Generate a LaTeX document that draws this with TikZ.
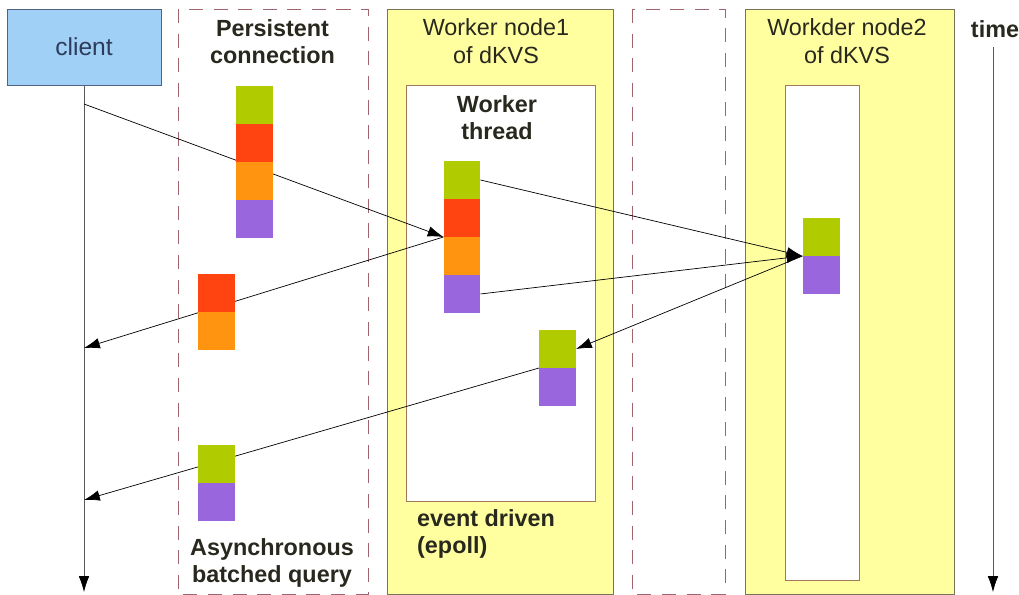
\documentclass[tikz,border=0pt]{standalone}
\usepackage{fontspec}
\setmainfont{Liberation Sans}
\usetikzlibrary{positioning,backgrounds,arrows.meta}

\definecolor{qgreen}{RGB}{176,204,0}
\definecolor{qred}{RGB}{255,68,17}
\definecolor{qorange}{RGB}{255,148,17}
\definecolor{qpurple}{RGB}{153,102,221}
\definecolor{nodeyellow}{RGB}{255,255,160}
\definecolor{clientblue}{RGB}{160,208,245}
\definecolor{clientedge}{RGB}{80,100,130}
\definecolor{clienttext}{RGB}{45,60,90}
\definecolor{dashred}{RGB}{160,100,110}
\definecolor{boxgray}{RGB}{120,115,90}
\definecolor{threadbrown}{RGB}{160,120,90}
\definecolor{labeltext}{RGB}{40,40,30}

\begin{document}
\begin{tikzpicture}[x=0.02cm,y=-0.02cm,
  blk/.style={minimum width=0.74cm, minimum height=0.76cm, inner sep=0pt, outer sep=0pt},
  msg/.style={thin,-{Latex[length=9pt,width=6pt]}},
  life/.style={thin,black!65,-{Latex[length=9pt,width=6pt,black]}},
  lbl/.style={font=\bfseries\fontsize{13.3}{15}\selectfont, align=center, text=labeltext},
  hdr/.style={font=\fontsize{13.3}{16}\selectfont, align=center, text=labeltext},
  conn/.style={draw=dashred, dash pattern=on 8pt off 6pt, thin},
  nodebox/.style={draw=boxgray, fill=nodeyellow},
  threadbox/.style={draw=threadbrown, fill=white},
  node distance=0pt]

\useasboundingbox (0,0) rectangle (1019,595);

%\draw (0,0) grid (1019,595);

\node [draw=clientedge, fill=clientblue, minimum width=3.08cm, minimum height=1.52cm,
       font=\fontsize{14}{16}\selectfont, text=clienttext] (client) at (84,47) {client};

% persistent connection
\node [blk, fill=qgreen] (pcg) at (254.5,105) {};
\node [blk, fill=qred, below=of pcg] (pcr) {};
\node [blk, fill=qorange, below=of pcr] (pco) {};
\node [blk, fill=qpurple, below=of pco] (pcp) {};

% worker thread of node1
\node [blk, fill=qgreen] (wtg) at (462,180) {};
\node [blk, fill=qred, below=of wtg] (wtr) {};
\node [blk, fill=qorange, below=of wtr] (wto) {};
\node [blk, fill=qpurple, below=of wto] (wtp) {};

\node [blk, fill=qgreen] (rtg) at (557.5,349) {};
\node [blk, fill=qpurple, below=of rtg] (rtp) {};

% node2
\node [blk, fill=qgreen] (ndg) at (821,237) {};
\node [blk, fill=qpurple, below=of ndg] (ndp) {};

% batched answers
\node [blk, fill=qred] (bar) at (216.5,293) {};
\node [blk, fill=qorange, below=of bar] (bao) {};
\node [blk, fill=qgreen] (bbg) at (216.5,464) {};
\node [blk, fill=qpurple, below=of bbg] (bbp) {};

\node [lbl] (pclabel) at (272.5,41.5) {Persistent\\connection};
\node [lbl] (bqlabel) at (272,563) {Asynchronous\\batched query};
\node [hdr] (n1label) at (496,41) {Worker node1\\of dKVS};
\node [hdr] (n2label) at (847,41) {Workder node2\\of dKVS};
\node [lbl] (wtlabel) at (497,117.5) {Worker\\thread};
\node [lbl, align=left, anchor=west] (evlabel) at (411,534) {event driven\\(epoll)};
\node [lbl] (timelabel) at (995,29) {time};

\coordinate (c1) at (84,104);
\coordinate (c2) at (84,348);
\coordinate (c3) at (84,500);
\coordinate (cend) at (84,592);
\coordinate (t1) at (993,47);
\coordinate (t2) at (993,592);

\begin{scope}[on background layer]
  \draw [conn] (178,9) rectangle (368,594);
  \draw [conn] (632,9) rectangle (725,594);
  \draw [nodebox] (387,9) rectangle (613,594);
  \draw [threadbox] (406,85) rectangle (595,501);
  \draw [nodebox] (745,9) rectangle (954,594);
  \draw [threadbox] (785,85) rectangle (859,580);
\end{scope}

\begin{scope}[on background layer]
  \draw [life] (client.south) -- (cend);
  \draw [life] (t1) -- (t2);
  \draw [msg] (c1) -- (wto.north west);
  \draw [msg] (wto.north west) -- (c2);
  \draw [msg] (wtg.east) -- (ndg.south west);
  \draw [msg] (wtp.east) -- (ndg.south west);
  \draw [msg] (ndg.south west) -- (rtg.east);
  \draw [msg] (rtp.north west) -- (c3);
\end{scope}

\end{tikzpicture}
\end{document}
